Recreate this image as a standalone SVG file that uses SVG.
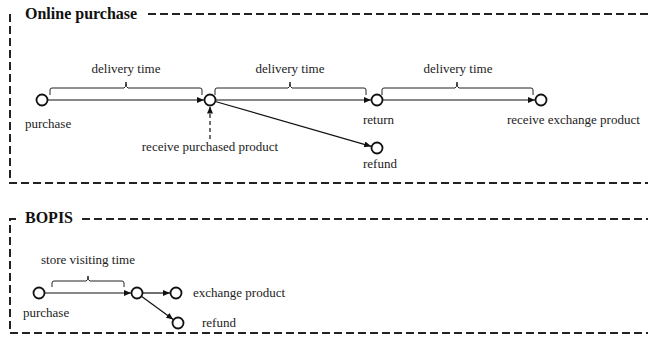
<svg xmlns="http://www.w3.org/2000/svg" width="648" height="347" viewBox="0 0 648 347">
<defs>
<style>
.frame{fill:none;stroke:#222;stroke-width:2;stroke-dasharray:8 4}
.t{font-family:"Liberation Serif","Times New Roman",serif;font-size:13px;fill:#222}
.title{font-family:"Liberation Serif","Times New Roman",serif;font-size:16px;font-weight:bold;fill:#111}
.node{fill:#fff;stroke:#111;stroke-width:1.8}
.edge{stroke:#111;stroke-width:1.2;fill:none}
.brace{stroke:#222;stroke-width:1;fill:none}
</style>
<marker id="ah" markerUnits="userSpaceOnUse" markerWidth="7" markerHeight="6" refX="7" refY="3" orient="auto">
<path d="M0,0 L7,3 L0,6 z" fill="#111"/>
</marker>
</defs>
<rect width="648" height="347" fill="#fff"/>

<g id="frame-online">
<path class="frame" d="M148,14 H648"/>
<path class="frame" d="M10,14 V183 H648"/>
<text class="title" x="25" y="19">Online purchase</text>
</g>
<g id="frame-bopis">
<path class="frame" d="M82,219 H648"/>
<path class="frame" d="M16,219 H10 V333 H648"/>
<text class="title" x="25" y="223">BOPIS</text>
</g>

<g id="connectors">
<line class="edge" x1="47.5" y1="100" x2="204" y2="100" marker-end="url(#ah)"/>
<line class="edge" x1="215.5" y1="100" x2="371" y2="100" marker-end="url(#ah)"/>
<line class="edge" x1="382.5" y1="100" x2="535" y2="100" marker-end="url(#ah)"/>
<line class="edge" x1="215.3" y1="101.5" x2="371.2" y2="146.3" marker-end="url(#ah)"/>
<line class="edge" x1="210" y1="139" x2="210" y2="106.5" stroke-dasharray="4 3" marker-end="url(#ah)"/>
<line class="edge" x1="44.5" y1="293" x2="131" y2="293" marker-end="url(#ah)"/>
<line class="edge" x1="142.5" y1="293" x2="170" y2="293" marker-end="url(#ah)"/>
<line class="edge" x1="141.4" y1="296.2" x2="173.2" y2="319.5" marker-end="url(#ah)"/>
</g>

<g id="braces">
<path class="brace" d="M50,95 V90 Q50,88 52,88 H124 Q126,88 126,82 Q126,88 128,88 H200 Q202,88 202,90 V95"/>
<path class="brace" d="M215,95 V90 Q215,88 217,88 H288 Q290,88 290,82 Q290,88 292,88 H364 Q366,88 366,90 V95"/>
<path class="brace" d="M382,95 V90 Q382,88 384,88 H455 Q457,88 457,82 Q457,88 459,88 H531 Q533,88 533,90 V95"/>
<path class="brace" d="M52,287 V283 Q52,281 54,281 H86 Q88,281 88,276 Q88,281 90,281 H122 Q124,281 124,283 V287"/>
<text class="t" x="126" y="73" text-anchor="middle">delivery time</text>
<text class="t" x="290" y="73" text-anchor="middle">delivery time</text>
<text class="t" x="458" y="73" text-anchor="middle">delivery time</text>
<text class="t" x="88" y="264" text-anchor="middle">store visiting time</text>
</g>

<g id="n-purchase"><circle class="node" cx="42" cy="100" r="5.5"/><text class="t" x="25" y="128">purchase</text></g>
<g id="n-receive"><circle class="node" cx="210" cy="100" r="5.5"/><text class="t" x="210" y="151" text-anchor="middle">receive purchased product</text></g>
<g id="n-return"><circle class="node" cx="377" cy="100" r="5.5"/><text class="t" x="363" y="124">return</text></g>
<g id="n-exchange"><circle class="node" cx="541" cy="100" r="5.5"/><text class="t" x="507" y="124">receive exchange product</text></g>
<g id="n-refund"><circle class="node" cx="377" cy="148" r="5.5"/><text class="t" x="363" y="168">refund</text></g>

<g id="b-purchase"><circle class="node" cx="39" cy="293" r="5.5"/><text class="t" x="23" y="317">purchase</text></g>
<g id="b-visit"><circle class="node" cx="137" cy="293" r="5.5"/></g>
<g id="b-exchange"><circle class="node" cx="176" cy="293" r="5.5"/><text class="t" x="193" y="297">exchange product</text></g>
<g id="b-refund"><circle class="node" cx="178" cy="323" r="5.5"/><text class="t" x="202" y="327">refund</text></g>
</svg>
